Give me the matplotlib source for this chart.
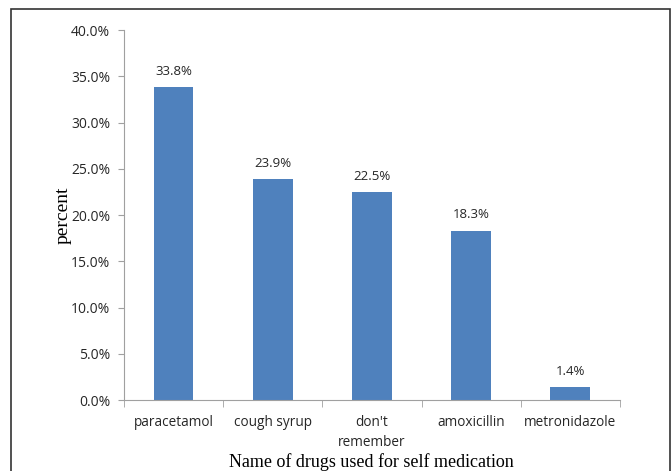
import numpy as np
import matplotlib.pyplot as plt
from matplotlib.patches import Rectangle

drugs = ["paracetamol", "cough syrup", "don't\nremember", "amoxicillin", "metronidazole"]
percent = [33.8, 23.9, 22.5, 18.3, 1.4]
y_ticks = [0, 5, 10, 15, 20, 25, 30, 35, 40]

BAR_COLOR = '#4F81BD'
AXIS_COLOR = '#A0A0A0'
TEXT_COLOR = '#262626'

fig = plt.figure(figsize=(6.72, 4.71), dpi=100)
ax = fig.add_axes([0.1845, 0.1507, 0.738, 0.7856])

x = np.arange(len(drugs))
ax.bar(x, percent, width=0.4, color=BAR_COLOR)

for xi, v in zip(x, percent):
    ax.text(xi, v + 1.0, f"{v:.1f}%", ha='center', va='bottom',
            fontsize=9.5, family='Open Sans', color=TEXT_COLOR)

ax.set_xlim(-0.5, len(drugs) - 0.5)
ax.set_ylim(0, 40)
ax.set_yticks(y_ticks)
ax.set_yticklabels([f"{t:.1f}%" for t in y_ticks], family='Open Sans',
                   fontsize=10, color=TEXT_COLOR)

# categories centred, tick marks at boundaries
ax.set_xticks(x)
ax.set_xticklabels(drugs, family='Open Sans', fontsize=9.8, color=TEXT_COLOR,
                   va='top', linespacing=1.45)
ax.set_xticks(np.arange(-0.5, len(drugs)), minor=True)
ax.tick_params(axis='x', which='major', length=0, pad=11)
ax.tick_params(axis='x', which='minor', length=5, color=AXIS_COLOR)
ax.tick_params(axis='y', length=4, color=AXIS_COLOR, pad=6)

for s in ['top', 'right']:
    ax.spines[s].set_visible(False)
for s in ['left', 'bottom']:
    ax.spines[s].set_color(AXIS_COLOR)

ax.set_ylabel('percent', family='Liberation Serif', fontsize=14, color='black')
ax.yaxis.set_label_coords(-0.105, 0.5)
fig.text(0.553, 0.019, 'Name of drugs used for self medication',
         family='Liberation Serif', fontsize=13, ha='center', va='center')

# outer frame
fig.patches.append(Rectangle((11 / 672, -0.02), 659 / 672, (471 - 9) / 471 + 0.02,
                             transform=fig.transFigure, fill=False,
                             edgecolor='#333333', linewidth=1.2))

fig.savefig('out.png', dpi=100)
